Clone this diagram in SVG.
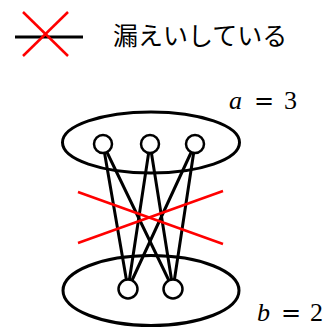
<svg xmlns="http://www.w3.org/2000/svg" width="328" height="329" viewBox="0 0 328 329">
<style>
.blk{stroke:#000;stroke-width:3;fill:none;stroke-linecap:round}
.red{stroke:#f00;stroke-width:2.5;fill:none}
.ell{stroke:#000;stroke-width:3;fill:none}
.node{stroke:#000;stroke-width:2.5;fill:#fff}
.jp{font-family:"Noto Sans CJK JP","Noto Sans",sans-serif;font-size:25px;fill:#000}
.mi{font-family:"Liberation Serif",serif;font-style:italic;font-size:26px;fill:#000}
.mn{font-family:"Liberation Serif",serif;font-size:26px;fill:#000}
.eq{font-family:"DejaVu Serif",serif;font-size:24px;fill:#000}
</style>
<rect width="328" height="329" fill="#fff"/>
<g id="legend">
<line class="blk" x1="15" y1="37" x2="83" y2="37" style="stroke-linecap:butt"/>
<line class="red" x1="23" y1="12" x2="68" y2="56"/>
<line class="red" x1="68" y1="12" x2="23" y2="56"/>
<text class="jp" x="113" y="45">漏えいしている</text>
</g>
<g id="groupA">
<ellipse class="ell" cx="151" cy="142.5" rx="88.5" ry="30.5"/>
<text x="229" y="109"><tspan class="mi">a</tspan><tspan class="eq" x="254">=</tspan><tspan class="mn" x="284">3</tspan></text>
</g>
<g id="groupB">
<ellipse class="ell" cx="151" cy="290.5" rx="88" ry="35"/>
<text x="257" y="321"><tspan class="mi">b</tspan><tspan class="eq" x="281">=</tspan><tspan class="mn" x="310">2</tspan></text>
</g>
<g id="connectors">
<line class="blk" x1="103" y1="144" x2="128" y2="289"/>
<line class="blk" x1="103" y1="144" x2="173" y2="289"/>
<line class="blk" x1="150" y1="144" x2="128" y2="289"/>
<line class="blk" x1="150" y1="144" x2="173" y2="289"/>
<line class="blk" x1="195" y1="144" x2="128" y2="289"/>
<line class="blk" x1="195" y1="144" x2="173" y2="289"/>
</g>
<g id="leak">
<line class="red" x1="78" y1="192" x2="223" y2="244"/>
<line class="red" x1="223" y1="191" x2="78" y2="243"/>
</g>
<g id="a1"><circle class="node" cx="103" cy="144" r="9"/></g>
<g id="a2"><circle class="node" cx="150" cy="144" r="9"/></g>
<g id="a3"><circle class="node" cx="195" cy="144" r="9"/></g>
<g id="b1"><circle class="node" cx="128" cy="289" r="9.5"/></g>
<g id="b2"><circle class="node" cx="173" cy="289" r="9.5"/></g>
</svg>
